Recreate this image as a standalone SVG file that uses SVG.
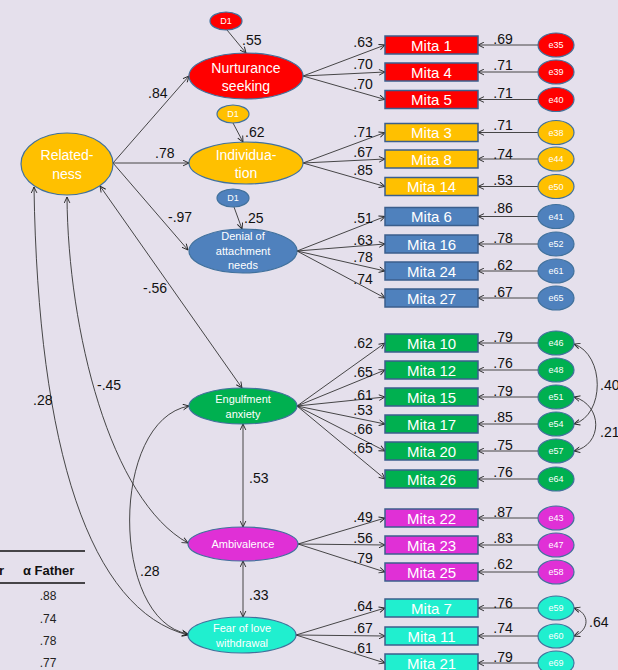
<svg xmlns="http://www.w3.org/2000/svg" width="618" height="670" viewBox="0 0 618 670">
<defs>
<marker id="arr" viewBox="0 0 10 10" refX="9.5" refY="5" markerWidth="7" markerHeight="7" orient="auto-start-reverse" markerUnits="userSpaceOnUse">
<path d="M1,1 L9.5,5 L1,9" fill="none" stroke="#222" stroke-width="1.3"/>
</marker>
<style>
.ln{fill:none;stroke:#333;stroke-width:0.9}
.lv{stroke:#222;stroke-width:1;fill:none}
.box{stroke:#3B5E8C;stroke-width:1.5}
.el{stroke:#41719C;stroke-width:1.2}
.bt{font-family:"Liberation Sans",Arial,sans-serif;font-size:15px;fill:#fff;text-anchor:middle}
.lt{font-family:"Liberation Sans",Arial,sans-serif;font-size:14px;fill:#fff;text-anchor:middle}
.st{font-family:"Liberation Sans",Arial,sans-serif;font-size:11px;fill:#fff;text-anchor:middle}
.et{font-family:"Liberation Sans",Arial,sans-serif;font-size:9px;fill:#fff;text-anchor:middle}
.num{font-family:"Liberation Sans",Arial,sans-serif;font-size:14px;fill:#111}
.nm{font-family:"Liberation Sans",Arial,sans-serif;font-size:14px;fill:#111;text-anchor:middle}
.tb{font-family:"Liberation Sans",Arial,sans-serif;font-size:12px;fill:#222;text-anchor:middle}
.th{font-family:"Liberation Sans",Arial,sans-serif;font-size:13px;font-weight:bold;fill:#111}
.red{fill:#FF0000}.yel{fill:#FFC000}.blu{fill:#4F81BD}.grn{fill:#00B050}.mag{fill:#E030D6}.cyn{fill:#20EFCF}
</style>
</defs>
<rect width="618" height="670" fill="#E5E0EC"/>

<!-- table fragment -->
<g id="table">
<line x1="0" y1="551" x2="85" y2="551" stroke="#111" stroke-width="1.5"/>
<line x1="0" y1="583" x2="85" y2="583" stroke="#111" stroke-width="1.5"/>
<text class="th" x="4" y="575" text-anchor="end">r</text>
<text class="th" x="23" y="575">α Father</text>
<text class="tb" x="48" y="600">.88</text>
<text class="tb" x="48" y="623">.74</text>
<text class="tb" x="48" y="645">.78</text>
<text class="tb" x="48" y="667">.77</text>
</g>

<!-- connectors -->
<g id="connectors" marker-end="url(#arr)">
<!-- structural -->
<line class="ln" x1="113" y1="163" x2="189" y2="76"/>
<line class="ln" x1="113" y1="163" x2="189" y2="163"/>
<line class="ln" x1="113" y1="163" x2="188" y2="250"/>
<line class="ln" x1="100" y1="186" x2="242" y2="388" marker-start="url(#arr)"/>
<path class="ln" d="M67,197 C68,330 110,500 188,543" marker-start="url(#arr)"/>
<path class="ln" d="M34,187 C38,450 90,610 188,635" marker-start="url(#arr)"/>
<path class="ln" d="M189,406 C110,420 110,620 188,634" marker-start="url(#arr)"/>
<line class="ln" x1="243" y1="424" x2="243" y2="527" marker-start="url(#arr)"/>
<line class="ln" x1="243" y1="561" x2="243" y2="617" marker-start="url(#arr)"/>
<!-- disturbances -->
<line class="ln" x1="227" y1="30" x2="246" y2="53"/>
<line class="ln" x1="233" y1="123" x2="243" y2="142"/>
<line class="ln" x1="234" y1="207" x2="242" y2="229"/>
<!-- loadings -->
<line class="ln" x1="303" y1="76" x2="385" y2="45"/>
<line class="ln" x1="303" y1="76" x2="385" y2="72"/>
<line class="ln" x1="303" y1="76" x2="385" y2="99.5"/>
<line class="ln" x1="303" y1="163" x2="385" y2="132.5"/>
<line class="ln" x1="303" y1="163" x2="385" y2="159"/>
<line class="ln" x1="303" y1="163" x2="385" y2="186.5"/>
<line class="ln" x1="297" y1="251" x2="385" y2="216.5"/>
<line class="ln" x1="297" y1="251" x2="385" y2="244"/>
<line class="ln" x1="297" y1="251" x2="385" y2="271"/>
<line class="ln" x1="297" y1="251" x2="385" y2="298"/>
<line class="ln" x1="297" y1="406" x2="385" y2="343"/>
<line class="ln" x1="297" y1="406" x2="385" y2="370"/>
<line class="ln" x1="297" y1="406" x2="385" y2="397"/>
<line class="ln" x1="297" y1="406" x2="385" y2="424"/>
<line class="ln" x1="297" y1="406" x2="385" y2="451"/>
<line class="ln" x1="297" y1="406" x2="385" y2="479"/>
<line class="ln" x1="298" y1="544" x2="385" y2="518"/>
<line class="ln" x1="298" y1="544" x2="385" y2="545"/>
<line class="ln" x1="298" y1="544" x2="385" y2="572"/>
<line class="ln" x1="296" y1="635" x2="385" y2="608"/>
<line class="ln" x1="296" y1="635" x2="385" y2="636"/>
<line class="ln" x1="296" y1="635" x2="385" y2="663"/>
<!-- errors -->
<line class="ln" x1="538" y1="45" x2="478" y2="45"/>
<line class="ln" x1="538" y1="72" x2="478" y2="72"/>
<line class="ln" x1="538" y1="99.5" x2="478" y2="99.5"/>
<line class="ln" x1="538" y1="132.5" x2="478" y2="132.5"/>
<line class="ln" x1="538" y1="159" x2="478" y2="159"/>
<line class="ln" x1="538" y1="186.5" x2="478" y2="186.5"/>
<line class="ln" x1="538" y1="216.5" x2="478" y2="216.5"/>
<line class="ln" x1="538" y1="244" x2="478" y2="244"/>
<line class="ln" x1="538" y1="271" x2="478" y2="271"/>
<line class="ln" x1="538" y1="298" x2="478" y2="298"/>
<line class="ln" x1="538" y1="343" x2="478" y2="343"/>
<line class="ln" x1="538" y1="370" x2="478" y2="370"/>
<line class="ln" x1="538" y1="397" x2="478" y2="397"/>
<line class="ln" x1="538" y1="424" x2="478" y2="424"/>
<line class="ln" x1="538" y1="451" x2="478" y2="451"/>
<line class="ln" x1="538" y1="479" x2="478" y2="479"/>
<line class="ln" x1="538" y1="518" x2="478" y2="518"/>
<line class="ln" x1="538" y1="545" x2="478" y2="545"/>
<line class="ln" x1="538" y1="572" x2="478" y2="572"/>
<line class="ln" x1="538" y1="608" x2="478" y2="608"/>
<line class="ln" x1="538" y1="636" x2="478" y2="636"/>
<line class="ln" x1="538" y1="663" x2="478" y2="663"/>
<!-- error covariances -->
<path class="ln" d="M574,344 C605,355 605,415 574,424" marker-start="url(#arr)"/>
<path class="ln" d="M574,397 C603,405 603,445 574,451" marker-start="url(#arr)"/>
<path class="ln" d="M574,608 C590,613 590,630 574,636" marker-start="url(#arr)"/>
</g>

<!-- connector labels -->
<g id="labels">
<text class="num" x="242" y="45">.55</text>
<text class="num" x="148" y="98">.84</text>
<text class="num" x="245" y="137">.62</text>
<text class="num" x="155" y="158">.78</text>
<text class="num" x="168" y="222">-.97</text>
<text class="num" x="244" y="223">.25</text>
<text class="num" x="143" y="293">-.56</text>
<text class="num" x="97" y="390">-.45</text>
<text class="num" x="33" y="405">.28</text>
<text class="num" x="140" y="576">.28</text>
<text class="num" x="249" y="483">.53</text>
<text class="num" x="249" y="600">.33</text>
<text class="num" x="600" y="390">.40</text>
<text class="num" x="600" y="437">.21</text>
<text class="num" x="589" y="627">.64</text>
<text class="nm" x="363" y="47">.63</text>
<text class="nm" x="363" y="69">.70</text>
<text class="nm" x="363" y="89">.70</text>
<text class="nm" x="363" y="137">.71</text>
<text class="nm" x="363" y="157">.67</text>
<text class="nm" x="363" y="175">.85</text>
<text class="nm" x="363" y="223">.51</text>
<text class="nm" x="363" y="245">.63</text>
<text class="nm" x="363" y="262">.78</text>
<text class="nm" x="363" y="284">.74</text>
<text class="nm" x="363" y="348">.62</text>
<text class="nm" x="363" y="377">.65</text>
<text class="nm" x="363" y="400">.61</text>
<text class="nm" x="363" y="415">.53</text>
<text class="nm" x="363" y="434">.66</text>
<text class="nm" x="363" y="453">.65</text>
<text class="nm" x="363" y="522">.49</text>
<text class="nm" x="363" y="543">.56</text>
<text class="nm" x="363" y="563">.79</text>
<text class="nm" x="363" y="611">.64</text>
<text class="nm" x="363" y="633">.67</text>
<text class="nm" x="363" y="653">.61</text>
<text class="nm" x="503" y="44">.69</text>
<text class="nm" x="503" y="70">.71</text>
<text class="nm" x="503" y="98">.71</text>
<text class="nm" x="503" y="130">.71</text>
<text class="nm" x="503" y="159">.74</text>
<text class="nm" x="503" y="185">.53</text>
<text class="nm" x="503" y="213">.86</text>
<text class="nm" x="503" y="243">.78</text>
<text class="nm" x="503" y="270">.62</text>
<text class="nm" x="503" y="297">.67</text>
<text class="nm" x="503" y="342">.79</text>
<text class="nm" x="503" y="368">.76</text>
<text class="nm" x="503" y="396">.79</text>
<text class="nm" x="503" y="422">.85</text>
<text class="nm" x="503" y="450">.75</text>
<text class="nm" x="503" y="477">.76</text>
<text class="nm" x="503" y="517">.87</text>
<text class="nm" x="503" y="543">.83</text>
<text class="nm" x="503" y="569">.62</text>
<text class="nm" x="503" y="608">.76</text>
<text class="nm" x="503" y="633">.74</text>
<text class="nm" x="503" y="662">.79</text>
</g>

<!-- latent nodes -->
<g id="relatedness"><ellipse class="el yel" cx="67" cy="164" rx="46" ry="31"/><text class="lt" x="67" y="160">Related-</text><text class="lt" x="67" y="179">ness</text></g>
<g id="nurturance"><ellipse class="el red" cx="246" cy="76" rx="57" ry="23"/><text class="lt" x="246" y="73">Nurturance</text><text class="lt" x="246" y="91">seeking</text></g>
<g id="individuation"><ellipse class="el yel" cx="246" cy="163" rx="57" ry="21"/><text class="lt" x="246" y="160">Individua-</text><text class="lt" x="246" y="178">tion</text></g>
<g id="denial"><ellipse class="el blu" cx="243" cy="251" rx="54" ry="22"/><text class="st" x="243" y="240">Denial of</text><text class="st" x="243" y="255">attachment</text><text class="st" x="243" y="269">needs</text></g>
<g id="engulfment"><ellipse class="el grn" cx="243" cy="406" rx="54" ry="18"/><text class="st" x="243" y="403">Engulfment</text><text class="st" x="243" y="418">anxiety</text></g>
<g id="ambivalence"><ellipse class="el mag" cx="243" cy="544" rx="55" ry="17"/><text class="st" x="243" y="548">Ambivalence</text></g>
<g id="fear"><ellipse class="el cyn" cx="242" cy="635" rx="54" ry="18"/><text class="st" x="242" y="632">Fear of love</text><text class="st" x="242" y="647">withdrawal</text></g>

<!-- disturbances -->
<g id="d1-red"><ellipse class="el red" cx="226" cy="21" rx="16" ry="9"/><text class="et" x="226" y="24">D1</text></g>
<g id="d1-yellow"><ellipse class="el yel" cx="233" cy="114" rx="16" ry="9"/><text class="et" x="233" y="117">D1</text></g>
<g id="d1-blue"><ellipse class="el blu" cx="233" cy="198" rx="16" ry="9"/><text class="et" x="233" y="201">D1</text></g>

<!-- indicator boxes -->
<g id="mita1"><rect class="box red" x="385" y="36" width="93" height="18"/><text class="bt" x="431.5" y="50.5">Mita 1</text></g>
<g id="mita4"><rect class="box red" x="385" y="63" width="93" height="18"/><text class="bt" x="431.5" y="77.5">Mita 4</text></g>
<g id="mita5"><rect class="box red" x="385" y="90.5" width="93" height="18"/><text class="bt" x="431.5" y="105">Mita 5</text></g>
<g id="mita3"><rect class="box yel" x="385" y="123.5" width="93" height="18"/><text class="bt" x="431.5" y="138">Mita 3</text></g>
<g id="mita8"><rect class="box yel" x="385" y="150" width="93" height="18"/><text class="bt" x="431.5" y="164.5">Mita 8</text></g>
<g id="mita14"><rect class="box yel" x="385" y="177.5" width="93" height="18"/><text class="bt" x="431.5" y="192">Mita 14</text></g>
<g id="mita6"><rect class="box blu" x="385" y="207.5" width="93" height="18"/><text class="bt" x="431.5" y="222">Mita 6</text></g>
<g id="mita16"><rect class="box blu" x="385" y="235" width="93" height="18"/><text class="bt" x="431.5" y="249.5">Mita 16</text></g>
<g id="mita24"><rect class="box blu" x="385" y="262" width="93" height="18"/><text class="bt" x="431.5" y="276.5">Mita 24</text></g>
<g id="mita27"><rect class="box blu" x="385" y="289" width="93" height="18"/><text class="bt" x="431.5" y="303.5">Mita 27</text></g>
<g id="mita10"><rect class="box grn" x="385" y="334" width="93" height="18"/><text class="bt" x="431.5" y="348.5">Mita 10</text></g>
<g id="mita12"><rect class="box grn" x="385" y="361" width="93" height="18"/><text class="bt" x="431.5" y="375.5">Mita 12</text></g>
<g id="mita15"><rect class="box grn" x="385" y="388" width="93" height="18"/><text class="bt" x="431.5" y="402.5">Mita 15</text></g>
<g id="mita17"><rect class="box grn" x="385" y="415" width="93" height="18"/><text class="bt" x="431.5" y="429.5">Mita 17</text></g>
<g id="mita20"><rect class="box grn" x="385" y="442" width="93" height="18"/><text class="bt" x="431.5" y="456.5">Mita 20</text></g>
<g id="mita26"><rect class="box grn" x="385" y="470" width="93" height="18"/><text class="bt" x="431.5" y="484.5">Mita 26</text></g>
<g id="mita22"><rect class="box mag" x="385" y="509" width="93" height="18"/><text class="bt" x="431.5" y="523.5">Mita 22</text></g>
<g id="mita23"><rect class="box mag" x="385" y="536" width="93" height="18"/><text class="bt" x="431.5" y="550.5">Mita 23</text></g>
<g id="mita25"><rect class="box mag" x="385" y="563" width="93" height="18"/><text class="bt" x="431.5" y="577.5">Mita 25</text></g>
<g id="mita7"><rect class="box cyn" x="385" y="599" width="93" height="18"/><text class="bt" x="431.5" y="613.5">Mita 7</text></g>
<g id="mita11"><rect class="box cyn" x="385" y="627" width="93" height="18"/><text class="bt" x="431.5" y="641.5">Mita 11</text></g>
<g id="mita21"><rect class="box cyn" x="385" y="654" width="93" height="18"/><text class="bt" x="431.5" y="668.5">Mita 21</text></g>

<!-- error terms -->
<g id="e35"><ellipse class="el red" cx="556" cy="45" rx="18" ry="12"/><text class="et" x="556" y="48">e35</text></g>
<g id="e39"><ellipse class="el red" cx="556" cy="72" rx="18" ry="12"/><text class="et" x="556" y="75">e39</text></g>
<g id="e40"><ellipse class="el red" cx="556" cy="99.5" rx="18" ry="12"/><text class="et" x="556" y="102.5">e40</text></g>
<g id="e38"><ellipse class="el yel" cx="556" cy="132.5" rx="18" ry="12"/><text class="et" x="556" y="135.5">e38</text></g>
<g id="e44"><ellipse class="el yel" cx="556" cy="159" rx="18" ry="12"/><text class="et" x="556" y="162">e44</text></g>
<g id="e50"><ellipse class="el yel" cx="556" cy="186.5" rx="18" ry="12"/><text class="et" x="556" y="189.5">e50</text></g>
<g id="e41"><ellipse class="el blu" cx="556" cy="216.5" rx="18" ry="12"/><text class="et" x="556" y="219.5">e41</text></g>
<g id="e52"><ellipse class="el blu" cx="556" cy="244" rx="18" ry="12"/><text class="et" x="556" y="247">e52</text></g>
<g id="e61"><ellipse class="el blu" cx="556" cy="271" rx="18" ry="12"/><text class="et" x="556" y="274">e61</text></g>
<g id="e65"><ellipse class="el blu" cx="556" cy="298" rx="18" ry="12"/><text class="et" x="556" y="301">e65</text></g>
<g id="e46"><ellipse class="el grn" cx="556" cy="343" rx="18" ry="12"/><text class="et" x="556" y="346">e46</text></g>
<g id="e48"><ellipse class="el grn" cx="556" cy="370" rx="18" ry="12"/><text class="et" x="556" y="373">e48</text></g>
<g id="e51"><ellipse class="el grn" cx="556" cy="397" rx="18" ry="12"/><text class="et" x="556" y="400">e51</text></g>
<g id="e54"><ellipse class="el grn" cx="556" cy="424" rx="18" ry="12"/><text class="et" x="556" y="427">e54</text></g>
<g id="e57"><ellipse class="el grn" cx="556" cy="451" rx="18" ry="12"/><text class="et" x="556" y="454">e57</text></g>
<g id="e64"><ellipse class="el grn" cx="556" cy="479" rx="18" ry="12"/><text class="et" x="556" y="482">e64</text></g>
<g id="e43"><ellipse class="el mag" cx="556" cy="518" rx="18" ry="12"/><text class="et" x="556" y="521">e43</text></g>
<g id="e47"><ellipse class="el mag" cx="556" cy="545" rx="18" ry="12"/><text class="et" x="556" y="548">e47</text></g>
<g id="e58"><ellipse class="el mag" cx="556" cy="572" rx="18" ry="12"/><text class="et" x="556" y="575">e58</text></g>
<g id="e59"><ellipse class="el cyn" cx="556" cy="608" rx="18" ry="12"/><text class="et" x="556" y="611">e59</text></g>
<g id="e60"><ellipse class="el cyn" cx="556" cy="636" rx="18" ry="12"/><text class="et" x="556" y="639">e60</text></g>
<g id="e69"><ellipse class="el cyn" cx="556" cy="663" rx="18" ry="12"/><text class="et" x="556" y="666">e69</text></g>
</svg>
